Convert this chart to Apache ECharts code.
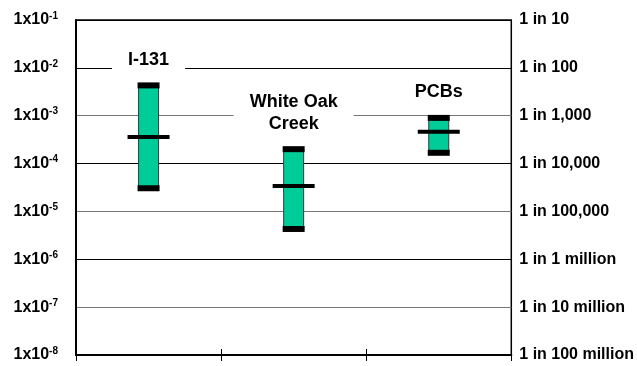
<!DOCTYPE html>
<html>
<head>
<meta charset="utf-8">
<script src="https://cdn.jsdelivr.net/npm/echarts@6/dist/echarts.min.js"></script>
<style>
  html, body { margin: 0; padding: 0; background: #fff; }
  #chart { width: 637px; height: 366px; }
</style>
</head>
<body>
<div id="chart"></div>
<script>
// Risk estimates per source: lower bound, upper bound and central value
const categories = ['I-131', 'White Oak Creek', 'PCBs'];
const categoryText = ['I-131', 'White Oak\nCreek', 'PCBs'];
const lowValues = [3.05e-5, 4.3e-6, 1.68e-4];
const highValues = [4.3e-3, 2.0e-4, 9.0e-4];
const centralValues = [3.6e-4, 3.4e-5, 4.6e-4];

// Axis tick labels, from 1e-8 up to 1e-1
const leftExponents = ['-8', '-7', '-6', '-5', '-4', '-3', '-2', '-1'];
const rightLabels = ['1 in 100 million', '1 in 10 million', '1 in 1 million', '1 in 100,000',
  '1 in 10,000', '1 in 1,000', '1 in 100', '1 in 10'];

// Where each source name sits (value on the risk axis)
const nameAnchor = [1.46e-2, 1.15e-3, 3.15e-3];

const Y_MIN = 1e-8;
const Y_MAX = 1e-1;
const FONT = '"Liberation Sans", Arial, sans-serif';
const chart = echarts.init(document.getElementById('chart'));

function expIndex(v) {
  return Math.round(Math.log10(v)) + 8;
}

// Range bar with end caps and a central marker; also extends the
// category divider tick upward from the bottom edge.
function renderRange(params, api) {
  const i = api.value(0);
  const lo = api.coord([i, api.value(1)]);
  const hi = api.coord([i, api.value(2)]);
  const md = api.coord([i, api.value(3)]);
  const base = api.coord([i, Y_MIN])[1];
  const band = api.size([1, 0])[0];
  const x = lo[0];
  const children = [
    { type: 'rect', shape: { x: x - 10, y: hi[1], width: 20, height: lo[1] - hi[1] },
      style: { fill: '#00CC99', stroke: '#3a3a3a', lineWidth: 1 } },
    { type: 'rect', shape: { x: x - 11, y: hi[1] - 3, width: 22, height: 6 }, style: { fill: '#000' } },
    { type: 'rect', shape: { x: x - 11, y: lo[1] - 3, width: 22, height: 6 }, style: { fill: '#000' } },
    { type: 'rect', shape: { x: x - 21, y: md[1] - 2, width: 42, height: 4 }, style: { fill: '#000' } }
  ];
  if (i > 0) {
    const tx = Math.round(x - band / 2) + 0.5;
    children.push({ type: 'line', shape: { x1: tx, y1: base - 6, x2: tx, y2: base },
      style: { stroke: '#000', lineWidth: 1 } });
  }
  return { type: 'group', children };
}

function renderName(params, api) {
  const p = api.coord([api.value(0), api.value(1)]);
  return {
    type: 'text',
    x: p[0],
    y: p[1],
    style: {
      text: categoryText[params.dataIndex],
      font: 'bold 18px ' + FONT,
      fill: '#000',
      align: 'center',
      verticalAlign: 'middle',
      lineHeight: 22,
      backgroundColor: '#fff',
      padding: [2, 16, 2, 16]
    }
  };
}

const rangeData = categories.map((c, i) => [i, lowValues[i], highValues[i], centralValues[i]]);
const nameData = categories.map((c, i) => [i, nameAnchor[i]]);

chart.setOption({
  animation: false,
  backgroundColor: '#fff',
  // plot frame: the border gives the top and right edges
  grid: { left: 76, right: 124, top: 20, bottom: 11, show: true, borderColor: '#000', borderWidth: 1.5 },
  xAxis: {
    type: 'category', data: categories, position: 'bottom',
    axisLine: { show: true, lineStyle: { color: '#000', width: 2 } },
    axisTick: { show: true, length: 6, lineStyle: { color: '#000', width: 1 } },
    axisLabel: { show: false },
    splitLine: { show: false }
  },
  yAxis: [
    {
      type: 'log', logBase: 10, min: Y_MIN, max: Y_MAX, interval: 1, position: 'left',
      axisLine: { show: true, lineStyle: { color: '#000', width: 2 } },
      axisTick: { show: false },
      splitLine: { show: true, lineStyle: { color: ['#000', '#777'], width: 1 } },
      axisLabel: {
        margin: 18,
        formatter: v => '{b|1x10}{s|' + leftExponents[expIndex(v)] + '}',
        rich: {
          b: { fontFamily: FONT, fontWeight: 'bold', fontSize: 16, color: '#000' },
          s: { fontFamily: FONT, fontWeight: 'bold', fontSize: 10, color: '#000', verticalAlign: 'top', padding: [0, 0, 8, 0] }
        }
      }
    },
    {
      type: 'log', logBase: 10, min: Y_MIN, max: Y_MAX, interval: 1, position: 'right',
      axisLine: { show: false },
      axisTick: { show: false },
      splitLine: { show: false },
      axisLabel: {
        margin: 8,
        fontFamily: FONT, fontWeight: 'bold', fontSize: 16, color: '#000',
        formatter: v => rightLabels[expIndex(v)]
      }
    }
  ],
  series: [
    { type: 'custom', xAxisIndex: 0, yAxisIndex: 0, data: rangeData, renderItem: renderRange, z: 3 },
    { type: 'custom', xAxisIndex: 0, yAxisIndex: 0, data: nameData, renderItem: renderName, z: 4 }
  ]
});
</script>
</body>
</html>
